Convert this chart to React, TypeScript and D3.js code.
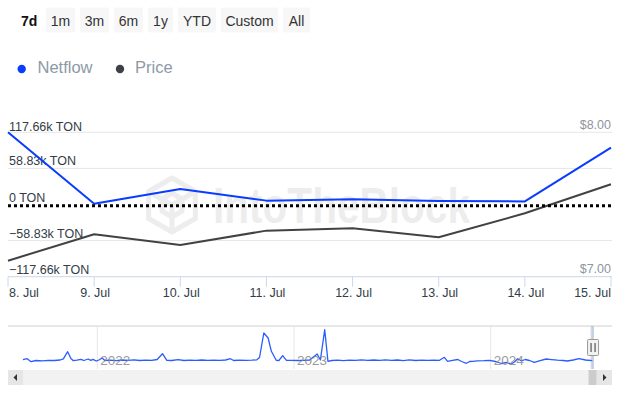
import React from 'react';
import * as d3 from 'd3';

// ---------- DATA ----------
const days = ['2024-07-08', '2024-07-09', '2024-07-10', '2024-07-11', '2024-07-12', '2024-07-13', '2024-07-14', '2024-07-15'];
const dayLabels = ['8. Jul', '9. Jul', '10. Jul', '11. Jul', '12. Jul', '13. Jul', '14. Jul', '15. Jul'];
const netflow = [117.66, 1.2, 25.3, 6.3, 8.5, 5.8, 5.0, 92.6]; // k TON
const price = [7.111, 7.294, 7.22, 7.319, 7.335, 7.273, 7.439, 7.64]; // USD
const leftTicks = [-117.66, -58.83, 0, 58.83, 117.66];
const leftTickLabels = ['−117.66k TON', '−58.83k TON', '0 TON', '58.83k TON', '117.66k TON'];
const rightTicks = [7, 8];
const rightTickLabels = ['$7.00', '$8.00'];
const buttons = ['7d', '1m', '3m', '6m', '1y', 'YTD', 'Custom', 'All'];
const seriesNames = ['Netflow', 'Price'];
const navYears = ['2022', '2023', '2024'];
// navigator (days since 2022-01-01, netflow k TON)
const navDays = [-138, -130, -123, -114, -102, -91, -80, -69, -63, -55, -49, -45, -38, -30, -25, -17, -12, -8, -2,
  3, 9, 14, 24, 35, 46, 57, 68, 79, 90, 101, 111, 121, 129, 138, 150, 161, 172, 183, 194, 205, 216,
  227, 238, 247, 253, 264, 276, 287, 296, 301, 309, 317, 323, 332, 337, 344, 351, 361, 372, 383, 394, 408, 414, 422, 428,
  435, 446, 457, 468, 479, 490, 502, 513, 524, 535, 546, 557, 568, 579,
  591, 602, 613, 624, 635, 644, 650, 659, 669, 676, 685, 691, 697, 705, 717, 728, 739, 750, 759, 768, 774, 780,
  787, 794, 802, 811, 820, 833, 843, 854, 865, 872, 883, 894, 906, 919];
const navValues = [30, 130, -170, -50, -80, -30, -50, 0, 120, 830, 150, -50, -20, 70, -50, 100, -30, 70, -100,
  0, 200, -50, -20, -60, 0, -40, 10, -50, -20, -40, 50, 630, -30, -50, 30, -50, -20, -40, 0, -40, -10,
  -30, 0, 130, -50, -20, -40, -20, 20, 250, 2700, 2200, 870, -30, -50, 430, -30, -30, -50, -30, 0, 600, 0, 3030, -130,
  -50, -20, -60, -10, -30, 20, -30, 0, -40, 10, -30, 0, -60, 10,
  -50, -20, -40, -20, -30, 270, -130, -30, 50, -150, -330, -150, -130, -80, -70, -30, -150, -350, -250, -400, -200, 130,
  -80, 50, -50, -230, -80, 100, 40, -20, -50, -100, 0, 130, 0, -70];

// ---------- LAYOUT ----------
const W = 623, H = 394;
const plotL = 8, plotR = 611, plotT = 132.3, plotB = 276.7;
const navT = 326, navB = 369, navL = 8, navR = 612;
const btnX = [0, 46, 80, 114, 148, 178, 221, 283];
const btnW = [0, 29, 29, 29, 25, 38, 57, 27];
const FONT = '"Liberation Sans", Arial, Helvetica, sans-serif';

export default function App() {
  const parse = d3.timeParse('%Y-%m-%d');
  const dates = days.map((d) => parse(d) as Date);
  const x = d3.scaleTime().domain([dates[0], dates[dates.length - 1]]).range([plotL, plotR]);
  const yL = d3.scaleLinear().domain([-117.66, 117.66]).range([plotB, plotT]);
  const yR = d3.scaleLinear().domain([7, 8]).range([plotB, plotT]);

  const netLine = d3.line<number>().x((_, i) => x(dates[i])).y((v) => yL(v));
  const priceLine = d3.line<number>().x((_, i) => x(dates[i])).y((v) => yR(v));

  const base = new Date(2022, 0, 1);
  const navDates = navDays.map((d) => d3.timeDay.offset(base, d));
  const xN = d3.scaleTime().domain([new Date(2022, 0, 1), new Date(2024, 0, 1)]).range([97.3, 490.7]);
  const yN = d3.scaleLinear().domain([-800, 3400]).range([368, 326]);
  const navLine = d3.line<number>().x((_, i) => xN(navDates[i])).y((v) => yN(v));
  const yearPos = navYears.map((y) => xN(new Date(+y, 0, 1)));
  const endX = xN(navDates[navDates.length - 1]);

  // watermark hexagon
  const cx = 172, cy = 205, r = 27;
  const hex = d3.range(6).map((k) => {
    const a = (Math.PI / 3) * k - Math.PI / 2;
    return [cx + r * Math.cos(a), cy + r * Math.sin(a)];
  });

  return (
    <svg width={W} height={H} style={{ position: 'absolute', left: 0, top: 0, fontFamily: FONT }}>
      <rect width={W} height={H} fill="#fff" />
      {/* range buttons */}
      {buttons.map((b, i) =>
        i === 0 ? (
          <text key={b} x={21} y={25.5} fontSize={14} fontWeight="bold" fill="#111">{b}</text>
        ) : (
          <g key={b}>
            <rect x={btnX[i]} y={7.5} width={btnW[i]} height={25} rx={2} fill="#f7f7f7" />
            <text x={btnX[i] + btnW[i] / 2} y={25.5} fontSize={14} fill="#333" textAnchor="middle">{b}</text>
          </g>
        )
      )}
      {/* legend */}
      <circle cx={21.7} cy={69} r={4.2} fill="#0a3cff" />
      <text x={37.5} y={72.5} fontSize={16.5} fill="#8d99a6">{seriesNames[0]}</text>
      <circle cx={120} cy={69} r={4.2} fill="#3d4044" />
      <text x={135} y={72.5} fontSize={16.5} fill="#8d99a6">{seriesNames[1]}</text>

      {/* watermark */}
      <g opacity={0.065} stroke="#000" strokeWidth={5} fill="none" strokeLinejoin="round">
        <polygon points={hex.map((p) => p.join(',')).join(' ')} />
        <line x1={cx} y1={cy} x2={hex[1][0]} y2={hex[1][1]} />
        <line x1={cx} y1={cy} x2={hex[5][0]} y2={hex[5][1]} />
        <line x1={cx} y1={cy} x2={hex[3][0]} y2={hex[3][1]} />
        <polygon points={`${cx},${cy - 12} ${cx + 10},${cy - 6} ${cx + 10},${cy + 6} ${cx},${cy + 12} ${cx - 10},${cy + 6} ${cx - 10},${cy - 6}`} />
      </g>
      <text x={213} y={223} fontSize={50} fontWeight="bold" fill="#000" opacity={0.065} textLength={257} lengthAdjust="spacingAndGlyphs">IntoTheBlock</text>

      {/* grid */}
      {leftTicks.filter((t) => t !== 0 && t !== -117.66).map((t) => (
        <line key={t} x1={plotL} x2={plotR + 1} y1={yL(t)} y2={yL(t)} stroke="#e6e6e6" strokeWidth={1} />
      ))}
      {/* x axis */}
      <line x1={plotL} x2={plotR + 1} y1={plotB} y2={plotB} stroke="#ccd6eb" strokeWidth={1} />
      {dates.map((d, i) => (
        <line key={i} x1={x(d)} x2={x(d)} y1={plotB} y2={plotB + 10} stroke="#ccd6eb" strokeWidth={1} />
      ))}
      {dates.map((d, i) => (
        <text key={i} x={i === 0 ? x(d) + 1 : i === dates.length - 1 ? x(d) : x(d) + 1}
          y={297} fontSize={12.5} fill="#333d47"
          textAnchor={i === 0 ? 'start' : i === dates.length - 1 ? 'end' : 'middle'}>{dayLabels[i]}</text>
      ))}
      {/* y labels */}
      {leftTicks.map((t, i) => (
        <text key={t} x={9} y={yL(t) - (i === 4 ? 1.5 : 3)} fontSize={12.5} fill="#333d47">{leftTickLabels[i]}</text>
      ))}
      {rightTicks.map((t, i) => (
        <text key={t} x={611} y={yR(t) - (i === 1 ? 3.5 : 4)} fontSize={12.5} fill="#8d959e" textAnchor="end">{rightTickLabels[i]}</text>
      ))}
      {/* series */}
      <path d={priceLine(price) || ''} fill="none" stroke="#404346" strokeWidth={2} strokeLinejoin="round" />
      <path d={netLine(netflow) || ''} fill="none" stroke="#0a3cff" strokeWidth={2} strokeLinejoin="round" />
      {/* zero line */}
      <line x1={plotL} x2={plotR + 1} y1={yL(0) + 1.2} y2={yL(0) + 1.2} stroke="#000" strokeWidth={3} strokeDasharray="3,3" />

      {/* navigator */}
      <line x1={navL} x2={navR} y1={navT} y2={navT} stroke="#d0d0d0" strokeWidth={1} />
      {yearPos.map((p, i) => (
        <line key={i} x1={p} x2={p} y1={navT} y2={navB} stroke="#e6e6e6" strokeWidth={1} />
      ))}
      <path d={navLine(navValues) || ''} fill="none" stroke="#2a5cff" strokeWidth={1.3} strokeLinejoin="round" />
      {yearPos.map((p, i) => (
        <text key={i} x={p + 3} y={365} fontSize={13.5} fill="#8a8a8a" opacity={0.85}>{navYears[i]}</text>
      ))}
      <rect x={endX - 2} y={navT} width={3} height={navB - navT} fill="#6685c2" opacity={0.3} />
      <line x1={endX + 0.5} x2={endX + 0.5} y1={navT} y2={navB} stroke="#b5c0d6" strokeWidth={1} />
      <rect x={endX - 5} y={339.5} width={11} height={16} rx={1} fill="#f2f2f2" stroke="#999" strokeWidth={1} />
      <line x1={endX - 1.5} x2={endX - 1.5} y1={343} y2={352} stroke="#333" strokeWidth={1} />
      <line x1={endX + 2.5} x2={endX + 2.5} y1={343} y2={352} stroke="#333" strokeWidth={1} />

      {/* scrollbar */}
      <rect x={navL} y={370} width={navR - navL} height={15} fill="#f2f2f2" />
      <rect x={endX - 4} y={370} width={8} height={15} fill="#cccccc" />
      <rect x={navL} y={370} width={15} height={15} fill="#e6e6e6" />
      <rect x={navR - 15} y={370} width={15} height={15} fill="#e6e6e6" />
      <path d={`M${navL + 9},${374} L${navL + 9},${381} L${navL + 5.5},${377.5} Z`} fill="#333" />
      <path d={`M${navR - 9},${374} L${navR - 9},${381} L${navR - 5.5},${377.5} Z`} fill="#333" />
    </svg>
  );
}
